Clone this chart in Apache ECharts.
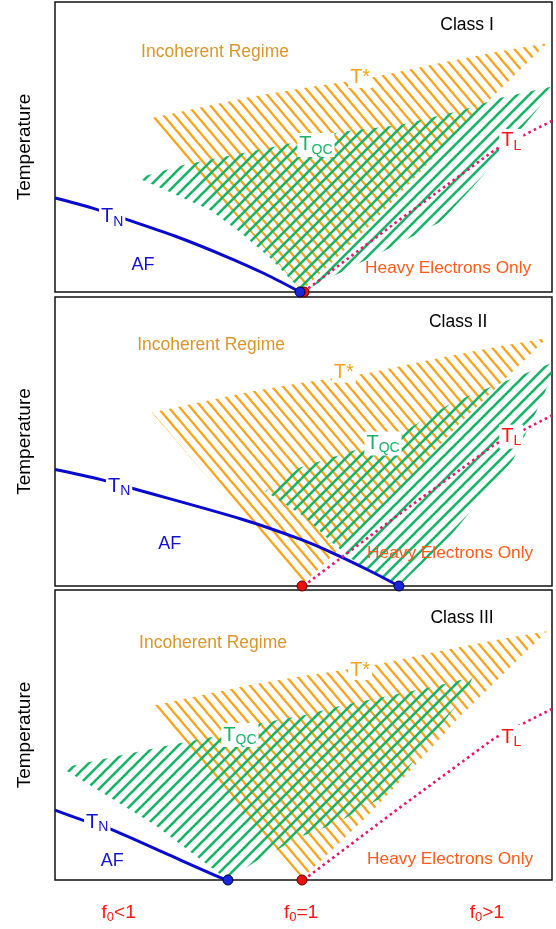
<!DOCTYPE html>
<html>
<head>
<meta charset="utf-8">
<script src="https://cdn.jsdelivr.net/npm/echarts@6/dist/echarts.min.js"></script>
<style>
  html, body { margin: 0; padding: 0; background: #fff; }
  #main { width: 556px; height: 929px; }
</style>
</head>
<body>
<div id="main"></div>
<script>
// x: tuning parameter (f0 = 1 sits at x = 50), y: temperature, both schematic 0..100
var tStarRegion = [[19.5,60],[29.2,63.6],[39.2,67.2],[49.3,70.2],[62.8,73.6],[77.5,79],[89.5,83],[99,85.8],
  [87.5,66.5],[81.5,56.5],[73.8,42],[63.4,23],[55.9,10.6],[49.7,0.5],[34.5,30],[27,45]];

var qcRegion1 = [[16.7,39.3],[25.8,43.8],[35.8,47.2],[45.9,50.7],[57.3,55.2],[69.4,57.6],[82.1,62.8],[89.5,66.9],[99.6,70.7],
  [100,69],[93.6,55.9],[88.9,45.5],[83.5,35.2],[77.5,24.1],[69.4,16.9],[57.7,6.9],[49.7,0.3],
  [43.3,11.7],[37.2,20.7],[31.2,28.3],[23.1,34.5]];
var qcRegion2 = [[42.3,32.8],[49.3,41],[61.4,47.6],[70.8,54.1],[79.5,63.1],[86.9,68.3],[99.6,76.9],
  [100,73],[97.6,63.1],[92.2,43.8],[79.5,17.2],[69.4,0.3],[60.8,7.9],[55.9,14.8],[50.3,23.8]];
var qcRegion3 = [[1.4,38.6],[13.5,43.1],[23.5,46.6],[31.6,49.3],[41.6,54.1],[50.3,56.9],[57.9,60.3],[68,63.8],[76.1,66.6],[84.1,70],
  [82.1,63.1],[74.8,47.2],[67.4,30],[56.7,19.7],[49.3,14.8],[40.2,6.2],[34.8,0],[20.1,19]];

var tnLine1 = [[0,32.4],[7.4,29],[14.1,25.2],[24.1,19.3],[34.2,12.4],[42.3,6.2],[49.3,0]];
var tnLine2 = [[0,40.3],[9.1,36.9],[15.5,33.8],[37.6,23.1],[49.3,16.2],[55.9,11.4],[63.4,5.2],[69.2,0]];
var tnLine3 = [[0,24.1],[5,21],[10.7,17.9],[21.7,9.6],[32.8,1.2],[34.8,0]];

var tlLine = [[50,0],[69,24.5],[88.5,49],[91.5,51.6],[94.5,54.2],[100,59]];

var afEndX = [49.3, 69.2, 34.8];   // where T_N reaches zero
var f0X = [50.1, 49.7, 49.7];      // f0 = 1

var classNames = ['Class I', 'Class II', 'Class III'];
// label anchors [x, y] per panel: class, incoherent, T*, TQC, TL, TN, AF, heavy
var labelPos1 = [[82.9,92.1],[32.2,82.8],[61.4,73.8],[52.5,50.7],[91.8,52.1],[11.5,25.9],[17.7,9.3],[79.1,8.3]];
var labelPos2 = [[81.1,91.4],[31.4,83.4],[58.1,73.8],[66,49.3],[91.8,51.7],[12.9,34.5],[23.1,14.5],[79.5,11.4]];
var labelPos3 = [[81.9,90.3],[31.8,81.7],[61.4,72.4],[37.2,50],[91.8,49.3],[8.5,20],[11.5,6.6],[79.5,7.2]];

var bottomTicks = [12.8, 49.5, 86.9];
var bottomLabels = ['f{s|0}<1', 'f{s|0}=1', 'f{s|0}>1'];

var F = '"Liberation Sans", Arial, sans-serif';

function hatch(color, a, b, width, slash) {
  var c = document.createElement('canvas');
  c.width = a; c.height = b;
  var ctx = c.getContext('2d');
  ctx.strokeStyle = color;
  ctx.lineWidth = width;
  for (var k = -2; k <= 2; k++) {
    ctx.beginPath();
    if (slash) { ctx.moveTo(k * a - a, 2 * b); ctx.lineTo(k * a + 2 * a, -b); }
    else { ctx.moveTo(k * a - a, -b); ctx.lineTo(k * a + 2 * a, 2 * b); }
    ctx.stroke();
  }
  return { image: c, repeat: 'repeat' };
}
var orangeFill = hatch('#F7A51E', 11, 13, 2.4, false);
var greenFill = hatch('#17B268', 12, 12, 2.6, true);

var labelStyles = [
  { fmt: null, color: '#000', size: 17.5 },
  { fmt: null, color: '#D9962A', size: 17.5 },
  { fmt: '{m|T*}', color: '#F5A31A', bg: true },
  { fmt: '{m|T}{s|QC}', color: '#17B268', bg: true },
  { fmt: '{m|T}{s|L}', color: '#FF1414', bg: true },
  { fmt: '{m|T}{s|N}', color: '#1212CC', bg: true },
  { fmt: null, color: '#1212CC', size: 18 },
  { fmt: null, color: '#FF5A1A', size: 17.3 }
];
var rich = {
  m: { fontSize: 20, fontFamily: F },
  s: { fontSize: 14, fontFamily: F, padding: [10, 0, 0, 0] }
};

var panels = [
  { qc: qcRegion1, tn: tnLine1, pos: labelPos1 },
  { qc: qcRegion2, tn: tnLine2, pos: labelPos2 },
  { qc: qcRegion3, tn: tnLine3, pos: labelPos3 }
];
var grids = [
  { left: 55, top: 2, width: 497, height: 290 },
  { left: 55, top: 297, width: 497, height: 289 },
  { left: 55, top: 590, width: 497, height: 290 }
];

function polygonSeries(region, fill, i, z) {
  return {
    type: 'custom', xAxisIndex: i, yAxisIndex: i, z: z, silent: true,
    data: [0],
    renderItem: function (params, api) {
      return {
        type: 'polygon',
        shape: { points: region.map(function (p) { return api.coord(p); }) },
        style: { fill: fill, stroke: null }
      };
    }
  };
}

var xAxes = [], yAxes = [], series = [];
panels.forEach(function (p, i) {
  grids[i].show = true;
  grids[i].borderColor = '#111';
  grids[i].borderWidth = 1.5;
  grids[i].backgroundColor = '#fff';

  xAxes.push({
    gridIndex: i, type: 'value', min: 0, max: 100,
    axisLine: { show: false }, axisTick: { show: false }, splitLine: { show: false },
    axisLabel: i < 2 ? { show: false } : {
      show: true, customValues: bottomTicks, margin: 22,
      formatter: function (v) { return bottomLabels[bottomTicks.indexOf(v)] || ''; },
      color: '#FF1414', fontSize: 19, fontFamily: F,
      rich: { s: { fontSize: 13, fontFamily: F, color: '#FF1414', padding: [9, 0, 0, 0] } }
    }
  });
  yAxes.push({
    gridIndex: i, type: 'value', min: 0, max: 100,
    axisLine: { show: false }, axisTick: { show: false }, splitLine: { show: false }, axisLabel: { show: false },
    name: 'Temperature', nameLocation: 'middle', nameGap: 21,
    nameTextStyle: { fontSize: 19, fontFamily: F, color: '#000' }
  });

  series.push(polygonSeries(tStarRegion, orangeFill, i, 1));
  series.push(polygonSeries(p.qc, greenFill, i, 2));
  series.push({
    type: 'line', xAxisIndex: i, yAxisIndex: i, z: 3, data: p.tn, smooth: 0.3,
    showSymbol: false, silent: true, lineStyle: { color: '#0A0ACC', width: 3 }
  });
  series.push({
    type: 'line', xAxisIndex: i, yAxisIndex: i, z: 3, data: tlLine,
    showSymbol: false, silent: true, lineStyle: { color: '#E8156B', width: 2.6, type: [2.6, 3.4] }
  });
  var labelData = p.pos.map(function (pos, k) {
    var st = labelStyles[k];
    var text = k === 0 ? classNames[i] : ({ 1: 'Incoherent Regime', 6: 'AF', 7: 'Heavy Electrons Only' })[k];
    return {
      value: pos,
      label: st.fmt ? {
        formatter: st.fmt, color: st.color,
        backgroundColor: '#fff', padding: [0, 2, 0, 2]
      } : {
        formatter: text, color: st.color, fontSize: st.size, fontFamily: F
      }
    };
  });
  series.push({
    type: 'scatter', xAxisIndex: i, yAxisIndex: i, z: 4, silent: true,
    symbolSize: 1, itemStyle: { color: 'rgba(0,0,0,0)', opacity: 1 },
    label: { show: true, position: 'inside', rich: rich },
    data: labelData
  });
  series.push({
    type: 'scatter', xAxisIndex: i, yAxisIndex: i, z: 6, silent: true, clip: false,
    symbolSize: 10,
    data: [
      { value: [f0X[i], 0], itemStyle: { color: '#E8100C', borderColor: '#5a0000', borderWidth: 1, opacity: 1 } },
      { value: [afEndX[i], 0], itemStyle: { color: '#1626D8', borderColor: '#000040', borderWidth: 1, opacity: 1 } }
    ]
  });
});

var myChart = echarts.init(document.getElementById('main'), null, { renderer: 'canvas' });
myChart.setOption({
  animation: false,
  backgroundColor: '#fff',
  grid: grids,
  xAxis: xAxes,
  yAxis: yAxes,
  series: series
});
</script>
</body>
</html>
